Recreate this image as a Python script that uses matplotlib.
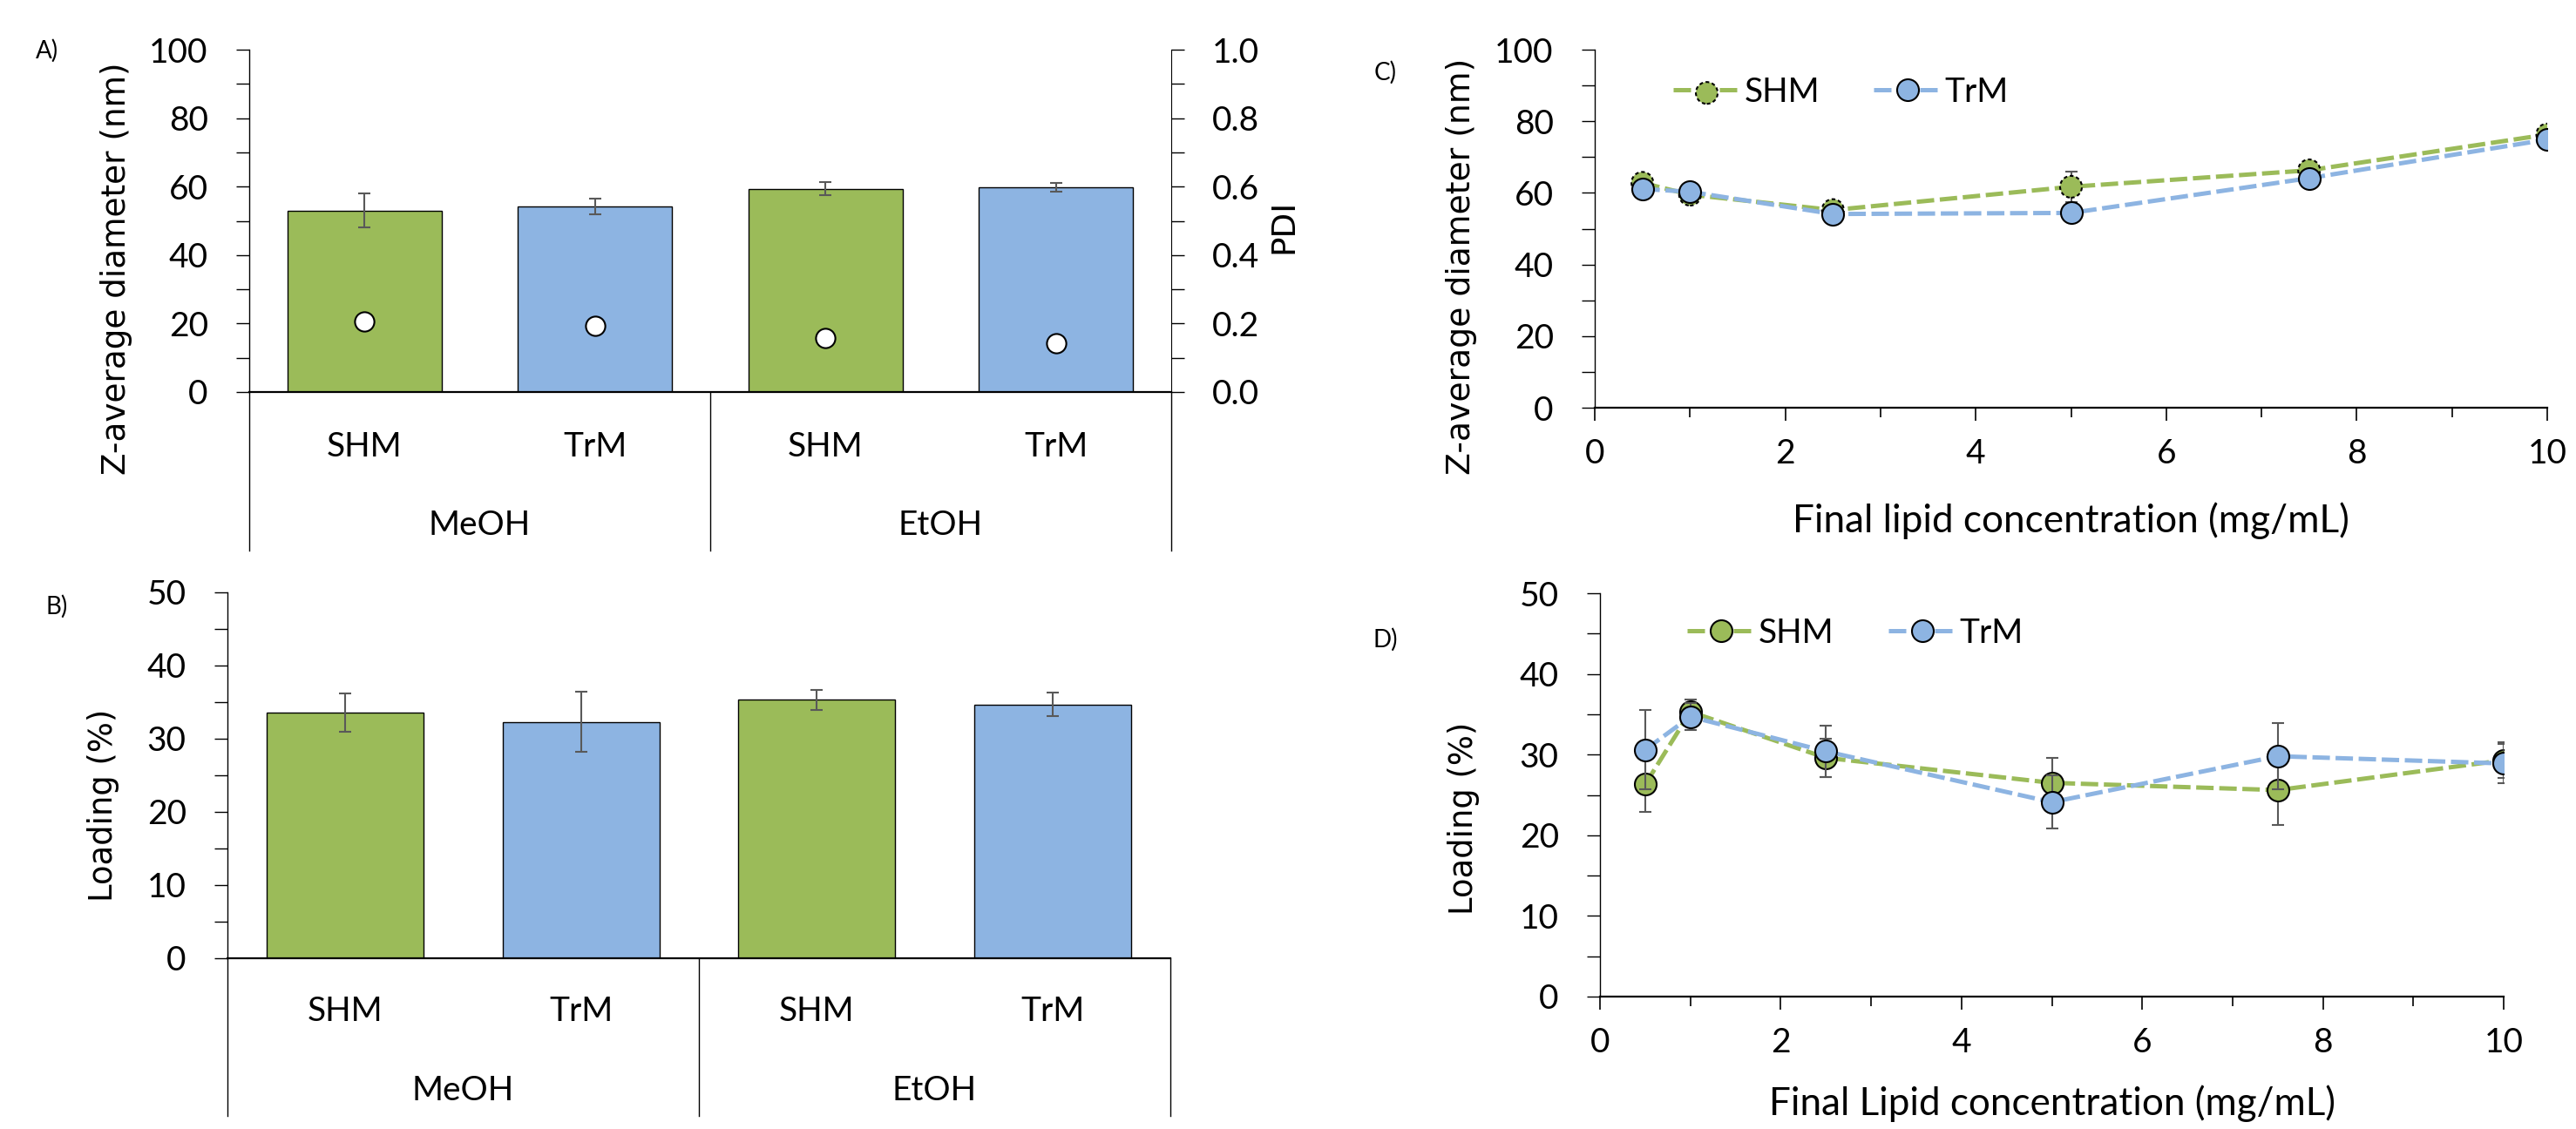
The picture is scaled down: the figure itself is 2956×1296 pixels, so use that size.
import matplotlib.pyplot as plt
import numpy as np

plt.rcParams['font.family'] = ['Lato', 'DejaVu Sans']

green = '#9BBB59'
blue = '#8DB4E2'
errc = '#595959'
FS = 28
TITLE_FAMILY = ['DejaVu Sans']

# panels A and B (bars)
groups = ['MeOH', 'EtOH']
methods = ['SHM', 'TrM', 'SHM', 'TrM']
bar_colors = [green, blue, green, blue]
z_avg = [53.0, 54.1, 59.4, 59.9]
z_err = [4.9, 2.3, 1.9, 1.25]
pdi = [0.205, 0.193, 0.159, 0.143]
loading = [33.6, 32.3, 35.3, 34.7]
loading_err = [2.65, 4.1, 1.4, 1.65]

# panels C and D (lines)
conc = [0.5, 1, 2.5, 5, 7.5, 10]
z_shm = [62.8, 59.5, 55.2, 61.7, 66.3, 76.3]
z_shm_err = [1.5, 1.5, 1.5, 4.2, 1.5, 1.5]
z_trm = [61.1, 60.3, 54.1, 54.4, 64.1, 74.9]
z_trm_err = [1.5, 1.5, 1.0, 2.0, 1.5, 1.5]
load_shm = [26.3, 35.3, 29.6, 26.5, 25.6, 29.3]
load_shm_err = [3.4, 1.5, 2.4, 3.1, 4.3, 2.2]
load_trm = [30.6, 34.7, 30.4, 24.1, 29.8, 28.9]
load_trm_err = [4.9, 1.7, 3.2, 3.3, 4.1, 2.4]

W, H = 2956, 1296
fig = plt.figure(figsize=(W / 100, H / 100), dpi=100)


def box(l, t, r, b):
    return [l / W, 1 - b / H, (r - l) / W, (b - t) / H]


def style_y(ax, major, minor):
    ax.set_yticks(major)
    ax.set_yticks(minor, minor=True)
    ax.tick_params(axis='y', which='both', direction='out', length=11, width=1,
                   labelsize=FS, pad=23, colors='black')
    ax.spines['top'].set_visible(False)
    for s in ['left', 'right', 'bottom']:
        ax.spines[s].set_color('black')
        ax.spines[s].set_linewidth(1.0)
    ax.spines['bottom'].set_linewidth(1.6)


def category_axis(ax, lab_px, grp_px, box_px):
    ax.set_xlim(-0.5, 3.5)
    ax.set_xticks([])
    ax_h = ax.get_position().height * H
    for i, m in enumerate(methods):
        ax.annotate(m, xy=(i, 0), xycoords=('data', 'axes fraction'), xytext=(0, -lab_px),
                    textcoords='offset pixels', ha='center', va='center', fontsize=FS)
    for j, g in enumerate(groups):
        ax.annotate(g, xy=(0.5 + 2 * j, 0), xycoords=('data', 'axes fraction'), xytext=(0, -grp_px),
                    textcoords='offset pixels', ha='center', va='center', fontsize=FS)
    for xb in [-0.5, 1.5, 3.5]:
        ax.plot([xb, xb], [0, -box_px / ax_h], transform=ax.get_xaxis_transform(),
                clip_on=False, color='black', lw=1.0)


# A
axA = fig.add_axes(box(286, 57, 1344, 450))
x = np.arange(len(methods))
axA.bar(x, z_avg, width=0.67, color=bar_colors, edgecolor='black', linewidth=1.0, zorder=2)
axA.errorbar(x, z_avg, yerr=z_err, fmt='none', ecolor=errc, elinewidth=1.5, capsize=5, capthick=1.5, zorder=3)
axA.set_ylim(0, 100)
style_y(axA, range(0, 101, 20), range(0, 101, 10))
axA.spines['right'].set_visible(False)
category_axis(axA, 63, 153, 182)
labA = axA.set_ylabel('Z-average diameter (nm)', va='center', family=TITLE_FAMILY, fontsize=27)
axA.yaxis.set_label_coords(-0.144, 0.361)
axA2 = axA.twinx()
axA2.plot(x, pdi, 'o', ms=16, mfc='white', mec='black', mew=1.5, zorder=4)
axA2.set_ylim(0, 1)
axA2.set_yticks(np.arange(0, 1.01, 0.2))
axA2.set_yticks(np.arange(0, 1.01, 0.1), minor=True)
axA2.set_yticklabels(['%.1f' % v for v in np.arange(0, 1.01, 0.2)])
axA2.tick_params(axis='y', which='both', direction='out', length=11, width=1, labelsize=FS, pad=23)
for s in ['top', 'left', 'bottom']:
    axA2.spines[s].set_visible(False)
axA2.spines['right'].set_color('black')
labP = axA2.set_ylabel('PDI', va='center', rotation=90, family=TITLE_FAMILY, fontsize=27)
axA2.yaxis.set_label_coords(1.122, 0.483)

# B
axB = fig.add_axes(box(261, 680, 1343, 1100))
axB.bar(x, loading, width=0.665, color=bar_colors, edgecolor='black', linewidth=1.0, zorder=2)
axB.errorbar(x, loading, yerr=loading_err, fmt='none', ecolor=errc, elinewidth=1.5, capsize=5, capthick=1.5, zorder=3)
axB.set_ylim(0, 50)
style_y(axB, range(0, 51, 10), range(0, 51, 5))
axB.spines['right'].set_visible(False)
category_axis(axB, 61, 152, 181)
labB = axB.set_ylabel('Loading (%)', va='center', family=TITLE_FAMILY, fontsize=27)
axB.yaxis.set_label_coords(-0.132, 0.417)


def line_panel(ax, shm, shm_err, trm, trm_err, ymax, major, minor, dashed_edge):
    dash = (4, 1.3)
    lw = 3.6
    l1, = ax.plot(conc, shm, color=green, lw=lw, dashes=dash, zorder=2)
    ax.errorbar(conc, shm, yerr=shm_err, fmt='none', ecolor=errc, elinewidth=1.5, capsize=5, capthick=1.5, zorder=3)
    if dashed_edge:
        sc = ax.scatter(conc, shm, s=18 ** 2, c=green, edgecolors='black', linewidths=1.5,
                        linestyles=(0, (2, 1.5)), zorder=4)
        h1 = (l1, sc)
    else:
        ax.plot(conc, shm, 'o', ms=18, mfc=green, mec='black', mew=1.5, zorder=4)
        h1 = (l1, ax.plot([], [], 'o', ms=18, mfc=green, mec='black', mew=1.5)[0])
    l2, = ax.plot(conc, trm, color=blue, lw=lw, dashes=dash, zorder=5)
    ax.errorbar(conc, trm, yerr=trm_err, fmt='none', ecolor=errc, elinewidth=1.5, capsize=5, capthick=1.5, zorder=6)
    ax.plot(conc, trm, 'o', ms=18, mfc=blue, mec='black', mew=1.5, zorder=7)
    h2 = (l2, ax.plot([], [], 'o', ms=18, mfc=blue, mec='black', mew=1.5)[0])
    ax.set_xlim(0, 10)
    ax.set_ylim(0, ymax)
    style_y(ax, major, minor)
    ax.spines['right'].set_visible(False)
    ax.set_xticks(range(0, 11, 2))
    ax.set_xticks(range(0, 11, 1), minor=True)
    ax.tick_params(axis='x', which='major', direction='out', length=11, width=1.2, labelsize=FS, pad=14)
    ax.tick_params(axis='x', which='minor', direction='out', length=8, width=1.2)
    return [h1, h2]


# C
axC = fig.add_axes(box(1830, 57, 2923, 468))
hC = line_panel(axC, z_shm, z_shm_err, z_trm, z_trm_err, 100, range(0, 101, 20), range(0, 101, 10), True)
axC.legend(hC, ['SHM', 'TrM'], loc='upper left', bbox_to_anchor=(0.05, 1.01), ncol=2, frameon=False,
           fontsize=FS, handlelength=2.0, handletextpad=0.1, columnspacing=1.6)
labCx = axC.set_xlabel('Final lipid concentration (mg/mL)', fontsize=32, va='center')
axC.xaxis.set_label_coords(0.5, -0.316)
labC = axC.set_ylabel('Z-average diameter (nm)', va='center', family=TITLE_FAMILY, fontsize=27)
axC.yaxis.set_label_coords(-0.140, 0.394)

# D
axD = fig.add_axes(box(1836, 681, 2873, 1144))
hD = line_panel(axD, load_shm, load_shm_err, load_trm, load_trm_err, 50, range(0, 51, 10), range(0, 51, 5), False)
axD.legend(hD, ['SHM', 'TrM'], loc='upper left', bbox_to_anchor=(0.063, 1.015), ncol=2, frameon=False,
           fontsize=FS, handlelength=2.0, handletextpad=0.1, columnspacing=1.6)
labDx = axD.set_xlabel('Final Lipid concentration (mg/mL)', fontsize=32, va='center')
axD.xaxis.set_label_coords(0.5, -0.264)
labD = axD.set_ylabel('Loading (%)', va='center', family=TITLE_FAMILY, fontsize=27)
axD.yaxis.set_label_coords(-0.151, 0.443)

fig.text(54 / W, 1 - 58 / H, 'A)', fontsize=20, ha='center', va='center')
fig.text(65 / W, 1 - 696 / H, 'B)', fontsize=20, ha='center', va='center')
fig.text(1590 / W, 1 - 83 / H, 'C)', fontsize=20, ha='center', va='center')
fig.text(1590 / W, 1 - 734 / H, 'D)', fontsize=20, ha='center', va='center')

# size the axis titles to the lengths they have in the original
fig.canvas.draw()
renderer = fig.canvas.get_renderer()
for t, target in [(labA, 474), (labC, 478), (labB, 221), (labD, 221), (labCx, 639), (labDx, 649)]:
    bb = t.get_window_extent(renderer)
    length = max(bb.width, bb.height)
    t.set_fontsize(t.get_fontsize() * target / length)
labP.set_fontsize(labA.get_fontsize())

fig.savefig('out.png', dpi=100)
